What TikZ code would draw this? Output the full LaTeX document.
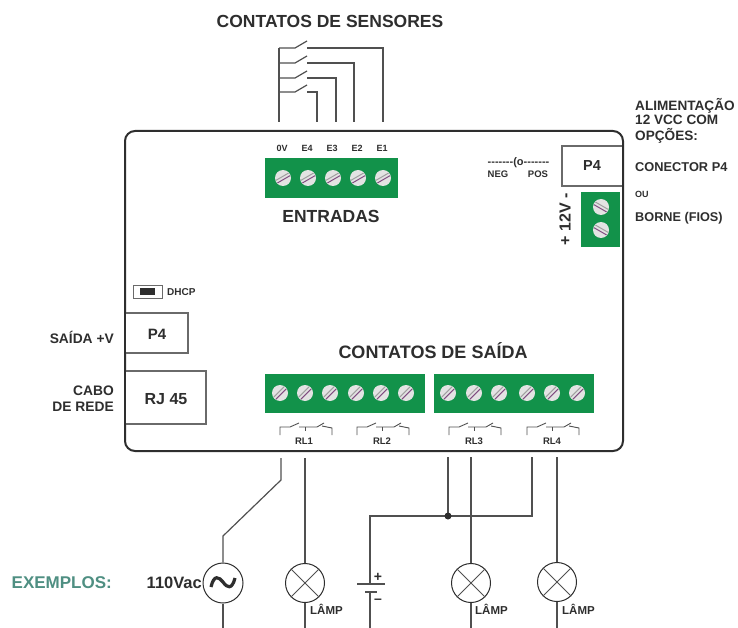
\documentclass[tikz,border=0pt]{standalone}
\usepackage{fontspec}
\setmainfont{Liberation Sans}
\definecolor{termgreen}{HTML}{12924A}
\definecolor{ink}{HTML}{2E2E2E}
\definecolor{wire}{HTML}{505050}
\definecolor{teal2}{HTML}{4F8F82}
\tikzset{
  tx/.style={font=\bfseries\fontsize{#1}{#1}\selectfont,text=ink,inner sep=0pt},
  tx/.default=11,
  ln/.style={draw=wire,line width=1.2pt},
  thin ln/.style={draw=wire,line width=.9pt},
  termblock/.style={fill=termgreen,draw=none},
  box/.style={draw=wire!85,line width=1.1pt,fill=white},
  roundel/.style={circle,draw=ink,line width=1pt,fill=white,minimum size=#1,inner sep=0pt},
  headscrew/.style={circle,fill=gray!22,draw=none,minimum size=16pt,inner sep=0pt}
}
\newcommand{\screwat}[3]{%
  \node[headscrew] (#1) at (#2) {};
  \begin{scope}[shift={(#2)},rotate=#3]
    \draw[draw=gray!75,line width=1pt] (-7.3,-1.5)--(7.3,-1.5);
    \draw[draw=violet!40!gray,line width=1pt] (-7.3,1.5)--(7.3,1.5);
  \end{scope}}
\newcommand{\relaysym}[3]{%
  \begin{scope}[shift={(#1,0)}]
    \draw[thin ln] (280,435)--(280,427)--(290,427)--(299,423);
    \draw[thin ln] (299,427)--(317,427)--(324,423);
    \draw[thin ln] (305,427)--(305,431);
    \draw[thin ln] (322,426)--(332,428)--(332,435);
  \end{scope}
  \node[tx=9.5] (#3) at (#2,441) {#3};}
\newcommand{\lampsym}[3]{%
  \node[roundel=39pt] (#1) at (#2,#3) {};
  \draw[thin ln] (#1.north west)--(#1.south east);
  \draw[thin ln] (#1.north east)--(#1.south west);
  \coordinate (#1b) at (#2,628);
  \draw[ln] (#1.south)--(#1b);}
\begin{document}
\begin{tikzpicture}[x=1pt,y=-1pt]
\useasboundingbox (0,0) rectangle (738,628);
% board
\draw[draw=ink,line width=2pt,rounded corners=10pt,fill=white] (125,131) rectangle (623,451);
% titles
\node[tx=17.5] (title) at (330,21) {CONTATOS DE SENSORES};
\node[tx=17.5] (entr) at (331,216) {ENTRADAS};
\node[tx=18] (said) at (433,351) {CONTATOS DE SAÍDA};
% sensors
\coordinate (s0) at (279,122);
\coordinate (st) at (279,48);
\draw[ln] (s0)--(st);
\foreach \yy/\xx in {48/383,63/354,78/336,92/317}{
  \draw[ln] (279,\yy)--(295,\yy)--(307,\yy-7);
  \draw[ln] (307,\yy)--(\xx,\yy)--(\xx,122);
}
% entradas
\fill[termblock] (265,158) rectangle (398,198);
\foreach \n/\x/\l in {a/283/0V,b/308/E4,c/333/E3,d/358/E2,e/383/E1}{
  \screwat{e\n}{\x,178}{30}
  \node[tx=9] (l\n) at (\x-1,148) {\l};
}
% power top right
\draw[box] (562,146) rectangle (623,186);
\node[tx=14.5] (p4r) at (592,166) {P4};
\draw[draw=ink,line width=2pt] (623,140)--(623,192);
\fill[termblock] (581,192) rectangle (620,247);
\screwat{pa}{601,207}{-30}
\screwat{pb}{601,230}{-30}
\node[tx=16,rotate=90] (v12) at (565,219) {+ 12V -};
\node[tx=11] (plug) at (518.5,163) {-{}-{}-{}-{}-{}-{}-(o-{}-{}-{}-{}-{}-{}-};
\node[tx=9.5] (neg) at (498,174) {NEG};
\node[tx=9.5] (pos) at (538,174) {POS};
% right text
\node[tx=13.6,anchor=west] (r1) at (635,106) {ALIMENTAÇÃO};
\node[tx=13.6,anchor=west] (r2) at (635,120) {12 VCC COM};
\node[tx=13.6,anchor=west] (r3) at (635,136) {OPÇÕES:};
\node[tx=12.8,anchor=west] (r4) at (635,167) {CONECTOR P4};
\node[tx=9,anchor=west] (r5) at (635,194) {OU};
\node[tx=12.7,anchor=west] (r6) at (635,218) {BORNE (FIOS)};
% left
\draw[box,line width=.9pt] (133,285) rectangle (162,298);
\fill[ink] (140,288) rectangle (155,295);
\node[tx=10,anchor=west] (dhcp) at (167,292) {DHCP};
\draw[box] (125,313) rectangle (188,353);
\node[tx=15] (p4l) at (157,334) {P4};
\draw[box] (125,371) rectangle (206,424);
\node[tx=16] (rj) at (166,399) {RJ 45};
\draw[draw=ink,line width=2pt] (125,300)--(125,440);
\node[tx=13.8,anchor=east] (sv) at (114,337) {SAÍDA +V};
\node[tx=13.8,anchor=east] (cb) at (114,391) {CABO};
\node[tx=13.8,anchor=east] (dr) at (114,407) {DE REDE};
% saida terminals
\fill[termblock] (265,374) rectangle (425,413);
\fill[termblock] (434,374) rectangle (594,413);
\foreach \n/\x in {a/280,b/305,c/330,d/356,e/381,f/406,g/448,h/474,i/499,j/527,k/552,l/577}{
  \screwat{t\n}{\x,393}{45}
}
\relaysym{0}{304}{RL1}
\relaysym{77}{382}{RL2}
\relaysym{169}{474}{RL3}
\relaysym{247}{552}{RL4}
% examples
\node[tx=17,text=teal2,anchor=east] (ex) at (112,583) {EXEMPLOS:};
\node[tx=16.5,anchor=east] (vac) at (202,583) {110Vac};
\node[roundel=40pt] (ac) at (223,583) {};
\draw[ink,line width=3.2pt] (211,587) .. controls (214,574) and (219,577) .. (223,582) .. controls (227,588) and (232,590) .. (235,578);
\coordinate (w1) at (281,458); \coordinate (w1a) at (281,480); \coordinate (w1b) at (223,536); \coordinate (acb) at (223,628);
\draw[ln] (w1)--(w1a)--(w1b)--(ac.north);
\draw[ln] (ac.south)--(acb);
\lampsym{la}{305}{583}
\lampsym{lb}{471}{583}
\lampsym{lc}{557}{582}
\coordinate (w2) at (305,458); \draw[ln] (w2)--(la.north);
\coordinate (w3) at (471,457); \draw[ln] (w3)--(lb.north);
\coordinate (w4) at (557,457); \draw[ln] (w4)--(lc.north);
\node[tx=11.5,anchor=west] (ta) at (310,609) {LÂMP};
\node[tx=11.5,anchor=west] (tb) at (475,609) {LÂMP};
\node[tx=11.5,anchor=west] (tc) at (562,609) {LÂMP};
% battery wiring
\coordinate (w5) at (448,457); \coordinate (jn) at (448,516);
\coordinate (w6) at (532,457); \coordinate (c6) at (532,516);
\coordinate (c7) at (370,516); \coordinate (bt) at (370,584);
\coordinate (bb) at (370,592); \coordinate (bz) at (370,628);
\draw[ln] (w5)--(jn);
\draw[ln] (w6)--(c6)--(c7)--(bt);
\fill[ink] (jn) circle (3.5);
\draw[ln] (357,584)--(385,584);
\draw[ln] (365,592)--(377,592);
\draw[ln] (bb)--(bz);
\node[tx=14] (bp) at (378,577) {+};
\node[tx=14] (bm) at (378,601) {–};
\end{tikzpicture}
\end{document}
